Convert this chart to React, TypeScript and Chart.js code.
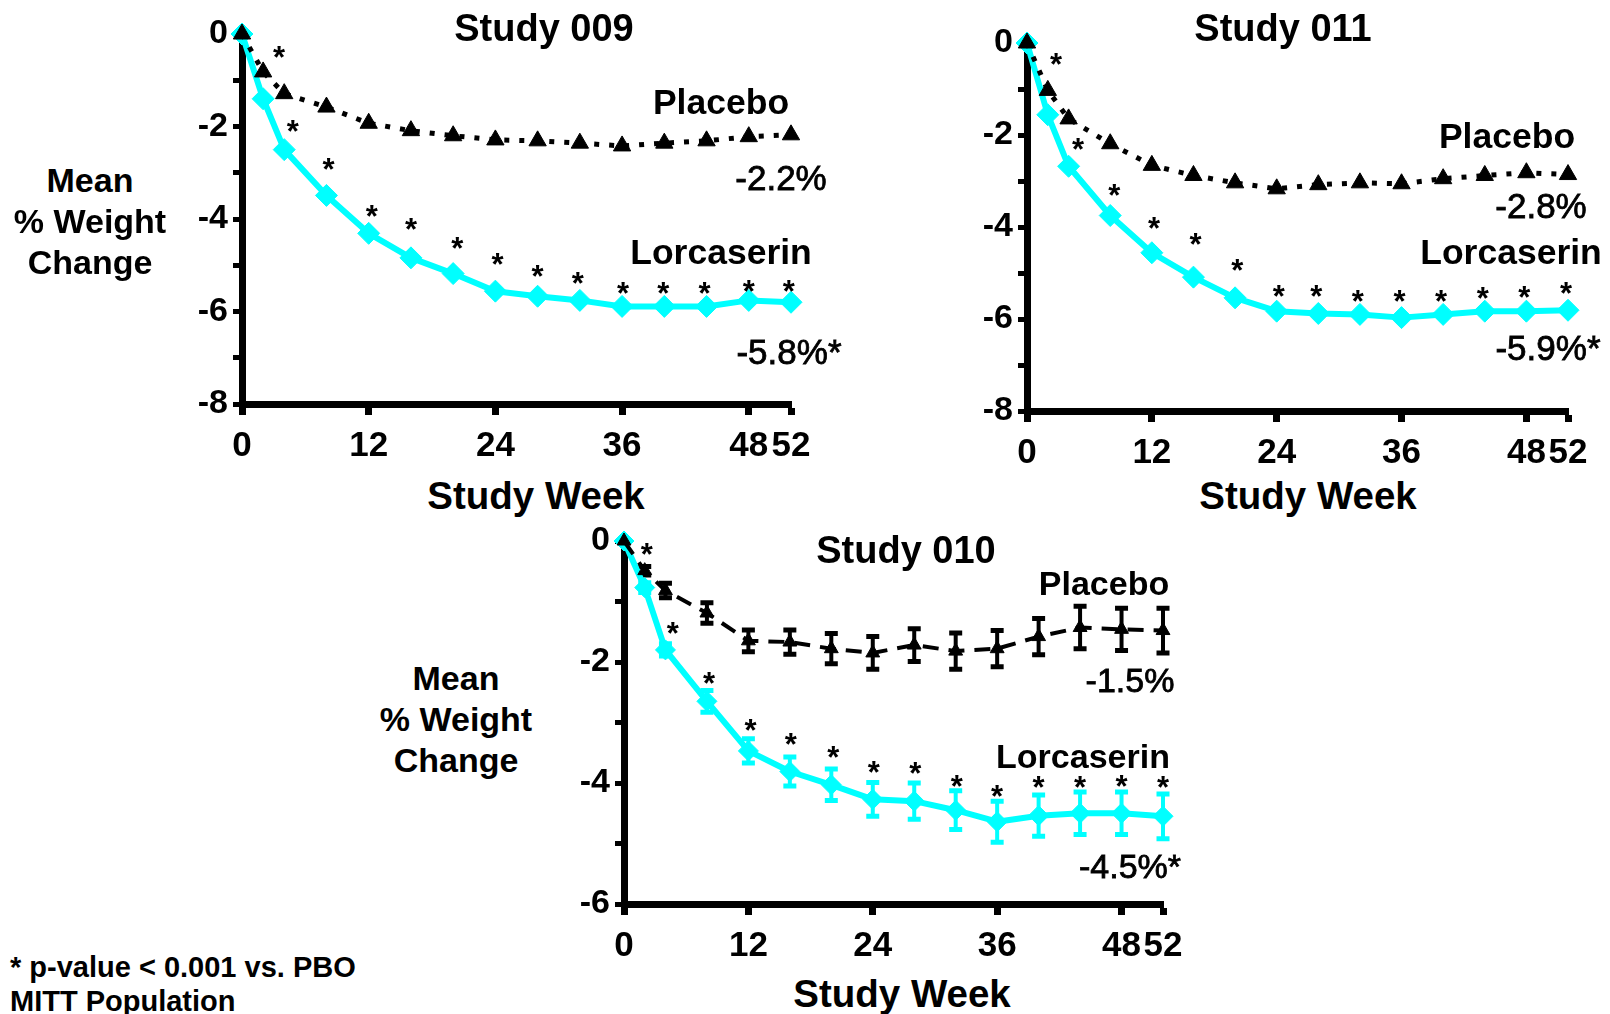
import React, { useEffect, useRef } from 'react';
import { Chart, registerables } from 'chart.js';
Chart.register(...registerables);

// ---------- DATA ----------
const weeks = [0, 2, 4, 8, 12, 16, 20, 24, 28, 32, 36, 40, 44, 48, 52];
const xTickValues = [0, 12, 24, 36, 48, 52];

// Study 009
const placebo009 = [0, -0.82, -1.29, -1.58, -1.93, -2.09, -2.2, -2.29, -2.31, -2.36, -2.42, -2.36, -2.31, -2.22, -2.18];
const lorc009 = [0, -1.4, -2.5, -3.49, -4.31, -4.84, -5.18, -5.56, -5.67, -5.76, -5.89, -5.89, -5.89, -5.76, -5.8];
const starWeeks009 = [3.5, 4.8, 8.2, 12.3, 16, 20.4, 24.2, 28, 31.8, 36.1, 39.9, 43.8, 48, 51.8];
const starVals009 = [-0.38, -1.98, -2.82, -3.82, -4.11, -4.51, -4.87, -5.13, -5.27, -5.49, -5.49, -5.49, -5.44, -5.44];

// Study 011
const placebo011 = [0, -1.03, -1.65, -2.19, -2.66, -2.88, -3.04, -3.17, -3.08, -3.04, -3.06, -2.95, -2.88, -2.82, -2.86];
const lorc011 = [0, -1.56, -2.68, -3.75, -4.56, -5.09, -5.54, -5.83, -5.88, -5.9, -5.97, -5.9, -5.83, -5.83, -5.81];
const starWeeks011 = [2.8, 4.9, 8.4, 12.2, 16.2, 20.2, 24.2, 27.8, 31.8, 35.8, 39.8, 43.8, 47.8, 51.8];
const starVals011 = [-0.34, -2.19, -3.2, -3.91, -4.25, -4.83, -5.39, -5.39, -5.5, -5.5, -5.5, -5.43, -5.41, -5.32];

// Study 010
const placebo010 = [0, -0.49, -0.82, -1.19, -1.65, -1.67, -1.78, -1.85, -1.72, -1.82, -1.78, -1.58, -1.43, -1.46, -1.48];
const placeboErr010 = [0, 0.07, 0.12, 0.17, 0.18, 0.2, 0.25, 0.27, 0.27, 0.3, 0.3, 0.3, 0.35, 0.35, 0.37];
const lorc010 = [0, -0.77, -1.8, -2.65, -3.47, -3.81, -4.03, -4.27, -4.3, -4.45, -4.64, -4.54, -4.5, -4.5, -4.55];
const lorcErr010 = [0, 0.08, 0.1, 0.18, 0.2, 0.24, 0.26, 0.28, 0.3, 0.32, 0.34, 0.34, 0.35, 0.35, 0.37];
const starWeeks010 = [2.2, 4.7, 8.2, 12.2, 16.1, 20.2, 24.1, 28.1, 32.1, 36, 40, 44, 48, 52];
const starVals010 = [-0.14, -1.44, -2.26, -3.04, -3.28, -3.48, -3.74, -3.76, -3.96, -4.13, -3.99, -3.99, -3.96, -3.99];

// ---------- STYLE ----------
const CYAN = '#00FFFF';
const FONT = '"Liberation Sans", Arial, Helvetica, sans-serif';
Chart.defaults.font.family = FONT;
Chart.defaults.color = '#000';

type PanelProps = {
  left: number; top: number; right: number; bottom: number;
  yMin: number;
  placebo: number[]; lorc: number[];
  placeboErr?: number[]; lorcErr?: number[];
  starWeeks: number[]; starVals: number[];
  placeboDash: number[]; placeboWidth: number; triRadius: number; diaRadius: number;
};

const PAD_L = 80, PAD_T = 20, PAD_R = 40, PAD_B = 62;

function Panel(p: PanelProps) {
  const ref = useRef<HTMLCanvasElement>(null);
  const w = Math.round(p.right - p.left + PAD_L + PAD_R);
  const h = Math.round(p.bottom - p.top + PAD_T + PAD_B);
  useEffect(() => {
    const errPlugin = {
      id: 'errbars',
      beforeDatasetsDraw(chart: any) {
        const { ctx, scales } = chart;
        const xs = scales.x, ys = scales.y;
        const draw = (vals: number[], errs: number[] | undefined, color: string) => {
          if (!errs) return;
          ctx.save();
          ctx.strokeStyle = color;
          ctx.lineCap = 'butt';
          weeks.forEach((wk, i) => {
            if (!errs[i]) return;
            const x = xs.getPixelForValue(wk);
            const y1 = ys.getPixelForValue(vals[i] + errs[i]);
            const y2 = ys.getPixelForValue(vals[i] - errs[i]);
            ctx.lineWidth = 4;
            ctx.beginPath();
            ctx.moveTo(x, y1); ctx.lineTo(x, y2);
            ctx.stroke();
            ctx.lineWidth = 5;
            ctx.beginPath();
            ctx.moveTo(x - 6.5, y1); ctx.lineTo(x + 6.5, y1);
            ctx.moveTo(x - 6.5, y2); ctx.lineTo(x + 6.5, y2);
            ctx.stroke();
          });
          ctx.restore();
        };
        draw(p.lorc, p.lorcErr, CYAN);
        draw(p.placebo, p.placeboErr, '#000');
      },
    };
    const starPlugin = {
      id: 'stars',
      afterDatasetsDraw(chart: any) {
        const { ctx, scales } = chart;
        ctx.save();
        ctx.font = `bold 31px ${FONT}`;
        ctx.fillStyle = '#000';
        ctx.textAlign = 'center';
        ctx.textBaseline = 'alphabetic';
        const m = ctx.measureText('*');
        const off = (m.actualBoundingBoxAscent - m.actualBoundingBoxDescent) / 2;
        p.starWeeks.forEach((wk, i) => {
          const x = scales.x.getPixelForValue(wk);
          const y = scales.y.getPixelForValue(p.starVals[i]);
          ctx.fillText('*', x, y + off);
        });
        ctx.restore();
      },
    };
    const chart = new Chart(ref.current!, {
      type: 'line',
      data: {
        datasets: [
          {
            label: 'Placebo',
            data: weeks.map((x, i) => ({ x, y: p.placebo[i] })),
            borderColor: '#000',
            backgroundColor: '#000',
            borderWidth: p.placeboWidth,
            borderDash: p.placeboDash,
            borderCapStyle: 'butt',
            pointStyle: 'triangle',
            pointRadius: p.triRadius,
            pointBorderWidth: 1,
            clip: false as any,
            tension: 0,
          },
          {
            label: 'Lorcaserin',
            data: weeks.map((x, i) => ({ x, y: p.lorc[i] })),
            borderColor: CYAN,
            backgroundColor: CYAN,
            borderWidth: 6,
            borderJoinStyle: 'round',
            pointStyle: 'rectRot',
            pointRadius: p.diaRadius,
            pointBorderWidth: 1,
            clip: false as any,
            tension: 0,
          },
        ],
      },
      options: {
        animation: false,
        responsive: false,
        events: [],
        layout: { padding: { left: 0, top: PAD_T, right: PAD_R, bottom: 0 } },
        plugins: { legend: { display: false }, tooltip: { enabled: false }, title: { display: false } },
        scales: {
          x: {
            type: 'linear',
            min: 0,
            max: 52,
            border: { display: true, width: 7, color: '#000' },
            grid: { display: true, drawOnChartArea: false, drawTicks: true, tickLength: 11, tickWidth: 7, tickColor: '#000' },
            ticks: {
              autoSkip: false, maxRotation: 0, padding: 10, color: '#000',
              font: { size: 35, weight: 'bold' },
              callback: (v: any) => String(v),
            },
            afterBuildTicks: (s: any) => { s.ticks = xTickValues.map((v) => ({ value: v })); },
            afterFit: (s: any) => { s.height = PAD_B; s.paddingLeft = 0; s.paddingRight = 0; },
          },
          y: {
            type: 'linear',
            min: p.yMin,
            max: 0,
            border: { display: true, width: 7, color: '#000' },
            grid: { display: true, drawOnChartArea: false, drawTicks: true, tickLength: 9, tickWidth: 5, tickColor: '#000' },
            ticks: {
              stepSize: 1, padding: 5, color: '#000',
              font: { size: 34, weight: 'bold' },
              callback: (v: any) => (Number(v) % 2 === 0 ? String(v) : ''),
            },
            afterFit: (s: any) => { s.width = PAD_L; s.paddingTop = 0; s.paddingBottom = 0; },
          },
        },
      } as any,
      plugins: [errPlugin, starPlugin],
    });
    return () => chart.destroy();
  }, []);
  return (
    <canvas
      ref={ref}
      width={w}
      height={h}
      style={{ position: 'absolute', left: Math.round(p.left - PAD_L), top: Math.round(p.top - PAD_T), width: w, height: h }}
    />
  );
}

function Txt(props: { x: number; y: number; size: number; bold?: boolean; medium?: boolean; align?: 'center' | 'left'; children: React.ReactNode }) {
  const { x, y, size, bold = true, medium = false, align = 'center' } = props;
  return (
    <div
      style={{
        position: 'absolute', left: x, top: y,
        transform: align === 'center' ? 'translate(-50%, -50%)' : 'translate(0, -50%)',
        fontFamily: FONT, fontSize: size, fontWeight: bold && !medium ? 'bold' : 'normal',
        WebkitTextStroke: medium ? '0.8px #000' : undefined,
        whiteSpace: 'nowrap', color: '#000', lineHeight: 1,
      } as any}
    >
      {props.children}
    </div>
  );
}

export default function App() {
  return (
    <div style={{ position: 'absolute', left: 0, top: 0, width: 1610, height: 1014, background: '#fff', overflow: 'hidden' }}>
      <Panel left={242} top={34} right={791} bottom={403.5} yMin={-8}
        placebo={placebo009} lorc={lorc009} starWeeks={starWeeks009} starVals={starVals009}
        placeboDash={[5, 10]} placeboWidth={5} triRadius={10} diaRadius={11} />
      <Panel left={1027} top={43} right={1568} bottom={411} yMin={-8}
        placebo={placebo011} lorc={lorc011} starWeeks={starWeeks011} starVals={starVals011}
        placeboDash={[5, 10]} placeboWidth={5} triRadius={10} diaRadius={11} />
      <Panel left={624} top={541} right={1163} bottom={903.5} yMin={-6}
        placebo={placebo010} lorc={lorc010} placeboErr={placeboErr010} lorcErr={lorcErr010}
        starWeeks={starWeeks010} starVals={starVals010}
        placeboDash={[16, 10]} placeboWidth={4} triRadius={8} diaRadius={10} />

      <Txt x={544} y={28} size={38}>Study 009</Txt>
      <Txt x={1283} y={28} size={38}>Study 011</Txt>
      <Txt x={906} y={550} size={38}>Study 010</Txt>

      <Txt x={721} y={103} size={35.5}>Placebo</Txt>
      <Txt x={781} y={177} size={35} medium>-2.2%</Txt>
      <Txt x={721} y={253} size={35.5}>Lorcaserin</Txt>
      <Txt x={789} y={351} size={35} medium>-5.8%*</Txt>

      <Txt x={1507} y={137} size={35.5}>Placebo</Txt>
      <Txt x={1541} y={205} size={35} medium>-2.8%</Txt>
      <Txt x={1511} y={253} size={35.5}>Lorcaserin</Txt>
      <Txt x={1548} y={347} size={35} medium>-5.9%*</Txt>

      <Txt x={1104} y={583} size={34}>Placebo</Txt>
      <Txt x={1130} y={680} size={34} medium>-1.5%</Txt>
      <Txt x={1083} y={756} size={34}>Lorcaserin</Txt>
      <Txt x={1130} y={866} size={34} medium>-4.5%*</Txt>

      <Txt x={90} y={180} size={34}>Mean</Txt>
      <Txt x={90} y={221} size={34}>% Weight</Txt>
      <Txt x={90} y={262} size={34}>Change</Txt>

      <Txt x={456} y={678} size={34}>Mean</Txt>
      <Txt x={456} y={719} size={34}>% Weight</Txt>
      <Txt x={456} y={760} size={34}>Change</Txt>

      <Txt x={536} y={496} size={38.5}>Study Week</Txt>
      <Txt x={1308} y={496} size={38.5}>Study Week</Txt>
      <Txt x={902} y={994} size={38.5}>Study Week</Txt>

      <Txt x={10} y={967} size={29} align="left">* p-value &lt; 0.001 vs. PBO</Txt>
      <Txt x={10} y={1001} size={29} align="left">MITT Population</Txt>
    </div>
  );
}
